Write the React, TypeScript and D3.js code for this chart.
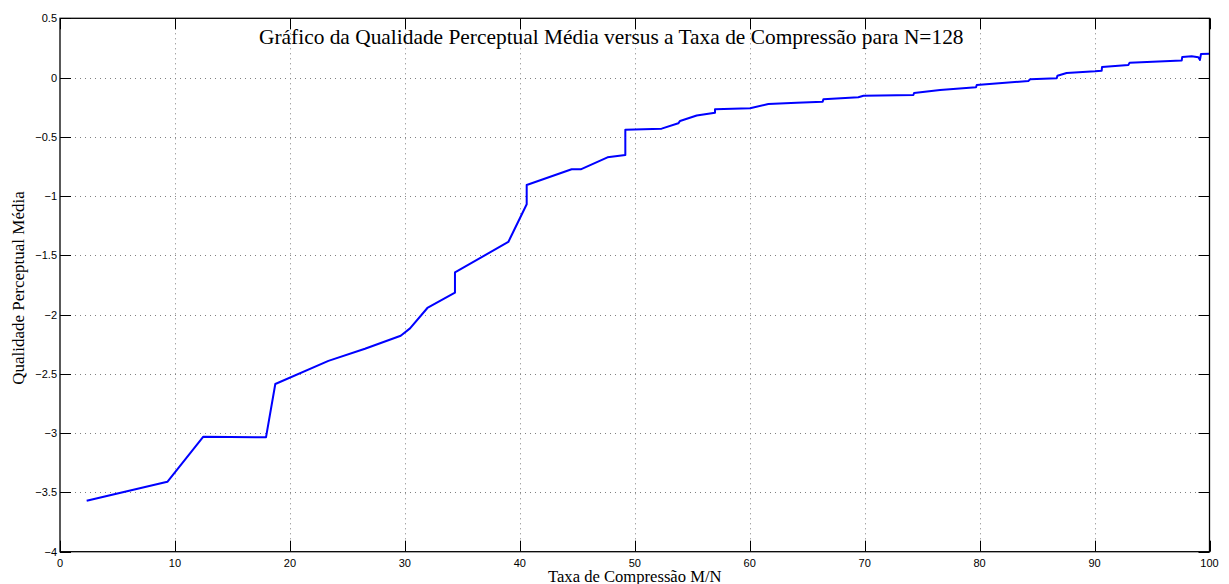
import React from "react";
import * as d3 from "d3";

const WIDTH = 1229;
const HEIGHT = 584;

const titleText = "Gráfico da Qualidade Perceptual Média versus a Taxa de Compressão para N=128";
const xLabel = "Taxa de Compressão M/N";
const yLabel = "Qualidade Perceptual Média";

const xTicks = [0, 10, 20, 30, 40, 50, 60, 70, 80, 90, 100];
const yTicks = [0.5, 0, -0.5, -1, -1.5, -2, -2.5, -3, -3.5, -4];

const compressionRate = [
  2.32, 9.34, 12.47, 17.92, 18.73, 23.35, 26.53, 29.64, 30.45, 31.96, 34.36, 34.36,
  39.0, 40.6, 40.6, 44.51, 45.3, 47.63, 49.18, 49.18, 52.34, 53.79, 53.94, 55.39,
  56.98, 56.98, 60.03, 61.62, 64.09, 66.35, 66.41, 69.45, 69.9, 74.24, 74.3, 76.56,
  79.69, 79.75, 84.24, 84.4, 86.71, 86.77, 87.57, 90.04, 90.62, 90.65, 92.94, 93.05,
  97.58, 97.63, 98.45, 99.03, 99.17, 99.26, 100,
];
const quality = [
  -3.57, -3.41, -3.03, -3.035, -2.585, -2.39, -2.288, -2.178, -2.116, -1.944, -1.815, -1.643,
  -1.387, -1.069, -0.906, -0.774, -0.774, -0.673, -0.653, -0.44, -0.431, -0.386, -0.366, -0.32,
  -0.296, -0.268, -0.259, -0.223, -0.212, -0.203, -0.183, -0.166, -0.153, -0.147, -0.13, -0.105,
  -0.082, -0.062, -0.029, -0.015, -0.006, 0.016, 0.039, 0.053, 0.058, 0.089, 0.106, 0.126,
  0.143, 0.174, 0.18, 0.171, 0.149, 0.199, 0.2,
];

const fmt = (v: number) => (v < 0 ? "\u2212" + String(-v) : String(v));

export default function App() {
  const left = 60;
  const right = 1209.5;
  const top = 18.3;
  const bottom = 551.7;
  const x = d3.scaleLinear().domain([0, 100]).range([left, right]);
  const y = d3.scaleLinear().domain([-4, 0.5]).range([bottom, top]);
  const points: [number, number][] = compressionRate.map((c, i) => [c, quality[i]]);
  const line = d3
    .line<[number, number]>()
    .x((d) => x(d[0]))
    .y((d) => y(d[1]));
  const tickLen = 11;
  const sans = "'Liberation Sans', Arial, Helvetica, sans-serif";
  const serif = "'Liberation Serif', 'Times New Roman', serif";

  return (
    <svg
      width={WIDTH}
      height={HEIGHT}
      style={{ position: "absolute", left: 0, top: 0, background: "#fff" }}
    >
      <rect x={0} y={0} width={WIDTH} height={HEIGHT} fill="#fff" />
      {/* grid */}
      <g stroke="#808080" strokeWidth={1} strokeDasharray="1,4">
        {xTicks.slice(1, -1).map((t) => (
          <line key={"gx" + t} x1={Math.round(x(t)) + 0.5} x2={Math.round(x(t)) + 0.5} y1={top} y2={bottom} />
        ))}
        {yTicks.slice(1, -1).map((t) => (
          <line key={"gy" + t} x1={left} x2={right} y1={Math.round(y(t)) + 0.5} y2={Math.round(y(t)) + 0.5} />
        ))}
      </g>
      {/* ticks */}
      <g stroke="#000" strokeWidth={1}>
        {xTicks.map((t) => (
          <g key={"tx" + t}>
            <line x1={Math.round(x(t)) + 0.5} x2={Math.round(x(t)) + 0.5} y1={bottom} y2={bottom - tickLen} />
            <line x1={Math.round(x(t)) + 0.5} x2={Math.round(x(t)) + 0.5} y1={top} y2={top + tickLen} />
          </g>
        ))}
        {yTicks.map((t) => (
          <g key={"ty" + t}>
            <line x1={left} x2={left + tickLen} y1={Math.round(y(t)) + 0.5} y2={Math.round(y(t)) + 0.5} />
            <line x1={right} x2={right - tickLen} y1={Math.round(y(t)) + 0.5} y2={Math.round(y(t)) + 0.5} />
          </g>
        ))}
      </g>
      {/* data line */}
      <path d={line(points) || ""} fill="none" stroke="#0000ff" strokeWidth={2} strokeLinejoin="round" />
      {/* box */}
      <rect
        x={left}
        y={top}
        width={right - left}
        height={bottom - top}
        fill="none"
        stroke="#000"
        strokeWidth={1.3}
      />
      {/* tick labels */}
      <g fontFamily={sans} fontSize={11} fill="#000">
        {xTicks.map((t) => (
          <text key={"lx" + t} x={x(t)} y={bottom + 15} textAnchor="middle">
            {fmt(t)}
          </text>
        ))}
        {yTicks.map((t) => (
          <text key={"ly" + t} x={left - 3} y={y(t) + 4} textAnchor="end">
            {fmt(t)}
          </text>
        ))}
      </g>
      {/* title */}
      <text x={259} y={44} fontFamily={serif} fontSize={21.4} fill="#000">
        {titleText}
      </text>
      {/* axis labels */}
      <text x={(left + right) / 2} y={582} fontFamily={serif} fontSize={16.6} textAnchor="middle" fill="#000">
        {xLabel}
      </text>
      <text
        transform={`translate(24, 288) rotate(-90)`}
        fontFamily={serif}
        fontSize={17}
        textAnchor="middle"
        fill="#000"
      >
        {yLabel}
      </text>
    </svg>
  );
}
